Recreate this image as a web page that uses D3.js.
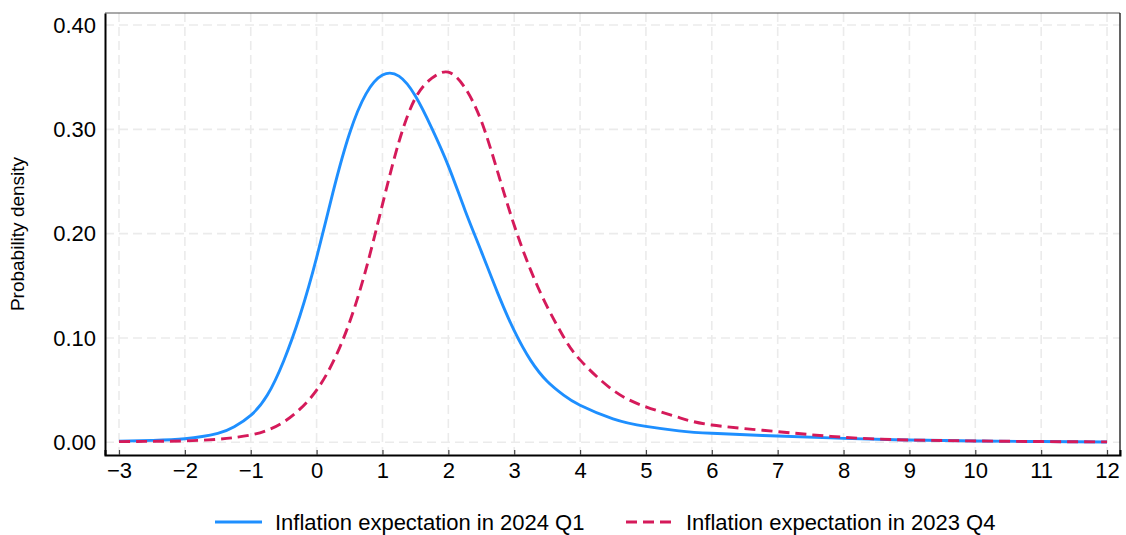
<!DOCTYPE html>
<html>
<head>
<meta charset="utf-8">
<script src="https://cdn.jsdelivr.net/npm/d3@7"></script>
<style>
  html, body { margin: 0; padding: 0; background: #ffffff; }
  svg { display: block; font-family: "Liberation Sans", Arial, Helvetica, sans-serif; }
</style>
</head>
<body>
<svg id="chart" width="1126" height="535"></svg>
<script>
// Density of expected inflation (percent), two survey rounds, on a shared grid
const inflation = [-3, -2.5, -2, -1.5, -1.25, -1, -0.75, -0.5, -0.25, 0, 0.25, 0.5, 0.75, 1, 1.25,
  1.5, 1.75, 2, 2.25, 2.5, 2.75, 3, 3.25, 3.5, 3.75, 4, 4.5, 5, 5.5, 6, 7, 8, 9, 10, 11, 12];
const density2024 = [0.0010, 0.0018, 0.0034, 0.0086, 0.0148, 0.0258, 0.0450, 0.0780, 0.1220, 0.1770, 0.2400,
  0.2960, 0.3340, 0.3520, 0.3510, 0.3320, 0.3010, 0.2650, 0.2230, 0.1830, 0.1430, 0.1070, 0.0785,
  0.0585, 0.0452, 0.0355, 0.0225, 0.0152, 0.0110, 0.0086, 0.0060, 0.0038, 0.0022, 0.0013, 0.0007, 0.0003];
const density2023 = [0.0006, 0.0009, 0.0013, 0.0029, 0.0045, 0.0070, 0.0115, 0.0195, 0.0320, 0.0500, 0.0770,
  0.1150, 0.1660, 0.2280, 0.2880, 0.3300, 0.3490, 0.3548, 0.3400, 0.3080, 0.2590, 0.2080, 0.1650, 0.1300,
  0.1010, 0.0790, 0.0500, 0.0340, 0.0238, 0.0166, 0.0102, 0.0048, 0.0022, 0.0013, 0.0007, 0.0004];

const xTicks = d3.range(-3, 13, 1);
const yTicks = [0, 0.1, 0.2, 0.3, 0.4];

const seriesNames = ["Inflation expectation in 2024 Q1", "Inflation expectation in 2023 Q4"];
const seriesColors = ["#1e8fff", "#d51a5a"];

const svg = d3.select("#chart");
const plot = { left: 105, right: 1120, top: 13, bottom: 455 };

const x = d3.scaleLinear().domain([-3.2125, 12.197]).range([plot.left, plot.right]);
const y = d3.scaleLinear().domain([-0.01218, 0.41152]).range([plot.bottom, plot.top]);

const fmtMinus = d => (d < 0 ? "\u2212" + Math.abs(d) : String(d));

// dashed grid
const grid = svg.append("g").attr("stroke", "#ebebeb").attr("stroke-width", 1.6)
  .attr("stroke-dasharray", "9,5");
grid.selectAll("line.vx").data(xTicks).join("line")
  .attr("x1", d => x(d)).attr("x2", d => x(d))
  .attr("y1", plot.top).attr("y2", plot.bottom);
grid.selectAll("line.hy").data(yTicks).join("line")
  .attr("x1", plot.left).attr("x2", plot.right)
  .attr("y1", d => y(d)).attr("y2", d => y(d));

// curves
const line = d3.line()
  .x((d, i) => x(inflation[i]))
  .y(d => y(d))
  .curve(d3.curveNatural);

svg.append("path")
  .attr("d", line(density2024))
  .attr("fill", "none").attr("stroke", seriesColors[0]).attr("stroke-width", 2.9)
  .attr("stroke-linejoin", "round");
svg.append("path")
  .attr("d", line(density2023))
  .attr("fill", "none").attr("stroke", seriesColors[1]).attr("stroke-width", 2.9)
  .attr("stroke-dasharray", "11,6");

// frame
svg.append("line").attr("x1", plot.left).attr("x2", plot.right).attr("y1", plot.top).attr("y2", plot.top)
  .attr("stroke", "#555").attr("stroke-width", 1.2);
svg.append("line").attr("x1", plot.right).attr("x2", plot.right).attr("y1", plot.top).attr("y2", plot.bottom)
  .attr("stroke", "#222").attr("stroke-width", 1.4);

// x axis
const xAxis = svg.append("g").attr("transform", `translate(0,${plot.bottom})`)
  .call(d3.axisBottom(x).tickValues(xTicks).tickFormat(fmtMinus).tickSize(-5).tickPadding(7));
xAxis.select(".domain").attr("stroke", "#000").attr("stroke-width", 2);
xAxis.selectAll(".tick line").attr("stroke", "#444").attr("stroke-width", 1.2);
xAxis.selectAll("text").attr("font-size", 22).attr("fill", "#000")
  .attr("font-family", "'Liberation Sans', Arial, sans-serif");

// y axis
const yAxis = svg.append("g").attr("transform", `translate(${plot.left},0)`)
  .call(d3.axisLeft(y).tickValues(yTicks).tickFormat(d3.format(".2f")).tickSize(0).tickPadding(9));
yAxis.select(".domain").attr("stroke", "#000").attr("stroke-width", 2);
yAxis.selectAll("text").attr("font-size", 22).attr("fill", "#000")
  .attr("font-family", "'Liberation Sans', Arial, sans-serif");

// y title
svg.append("text")
  .attr("transform", `translate(24,${(plot.top + plot.bottom) / 2}) rotate(-90)`)
  .attr("text-anchor", "middle").attr("font-size", 19).attr("fill", "#000")
  .text("Probability density");

// legend
const legend = svg.append("g");
const legendItems = [
  { name: seriesNames[0], color: seriesColors[0], dash: null, x0: 215 },
  { name: seriesNames[1], color: seriesColors[1], dash: "11,6", x0: 626 }
];
legendItems.forEach(it => {
  legend.append("line")
    .attr("x1", it.x0).attr("x2", it.x0 + 47).attr("y1", 522).attr("y2", 522)
    .attr("stroke", it.color).attr("stroke-width", 2.9)
    .attr("stroke-dasharray", it.dash);
  legend.append("text")
    .attr("x", it.x0 + 60).attr("y", 522).attr("dy", "0.35em")
    .attr("font-size", 22).attr("fill", "#000")
    .text(it.name);
});
</script>
</body>
</html>
